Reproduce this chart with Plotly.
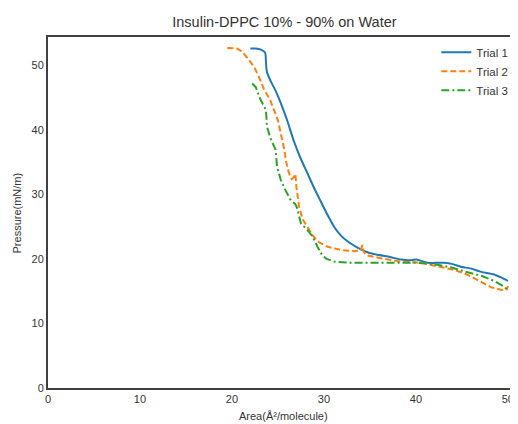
import plotly.graph_objects as go

trial1_x = [22.0, 22.6, 23.2, 23.6, 23.7, 23.8, 24.2, 24.8, 25.3, 26.0, 26.7, 27.4, 28.2, 29.0, 29.7, 30.4, 31.1, 31.8, 32.6, 33.6, 34.8, 36.0, 37.2, 38.4, 39.3, 40.0, 40.6, 41.3, 42.2, 43.1, 44.0, 44.9, 46.0, 47.1, 48.5, 49.3, 50.0]
trial1_y = [52.6, 52.6, 52.4, 52.0, 50.5, 49.0, 47.6, 45.9, 44.2, 41.5, 38.4, 35.8, 33.3, 30.8, 28.8, 26.8, 25.0, 23.7, 22.7, 21.8, 21.0, 20.6, 20.3, 19.9, 19.8, 19.9, 19.7, 19.4, 19.4, 19.4, 19.2, 18.8, 18.5, 18.0, 17.6, 17.1, 16.6]

trial2_x = [19.5, 20.6, 21.2, 21.7, 22.4, 23.0, 23.5, 24.1, 24.6, 25.0, 25.3, 25.7, 25.9, 26.2, 26.5, 26.7, 26.9, 27.0, 27.3, 27.7, 28.2, 28.6, 29.3, 30.4, 31.8, 33.3, 34.0, 34.2, 34.3, 34.6, 36.2, 38.4, 40.6, 42.7, 44.2, 45.7, 47.1, 48.2, 49.3, 49.9, 50.0]
trial2_y = [52.7, 52.6, 52.0, 51.1, 49.8, 48.0, 46.2, 44.8, 43.1, 41.5, 39.5, 36.9, 35.0, 33.3, 32.4, 32.6, 33.2, 31.2, 28.1, 26.1, 25.0, 24.0, 22.7, 21.9, 21.4, 21.2, 21.4, 22.2, 21.2, 20.6, 20.1, 19.6, 19.4, 18.8, 18.3, 17.5, 16.5, 15.6, 15.2, 15.3, 15.8]

trial3_x = [22.2, 22.6, 23.1, 23.7, 23.8, 24.2, 24.75, 24.9, 25.3, 25.8, 26.4, 26.9, 27.1, 27.3, 27.5, 28.2, 28.8, 29.3, 29.8, 30.3, 31.1, 32.9, 35.0, 38.4, 40.0, 42.0, 43.8, 45.7, 47.1, 48.5, 49.5, 50.0]
trial3_y = [47.2, 46.6, 44.7, 43.1, 40.5, 38.7, 36.9, 34.3, 32.3, 30.7, 29.1, 28.5, 27.8, 26.5, 25.5, 24.5, 23.4, 21.9, 20.6, 20.0, 19.6, 19.4, 19.4, 19.4, 19.4, 19.2, 18.7, 17.9, 17.4, 16.6, 15.8, 15.2]

x_ticks = [0, 10, 20, 30, 40, 50]
y_ticks = [0, 10, 20, 30, 40, 50]

TEXT = "#333333"
SPINE = "#404040"
FONT = "Liberation Sans, Arial, sans-serif"

fig = go.Figure()
fig.add_trace(go.Scatter(x=trial1_x, y=trial1_y, mode="lines", name="Trial 1",
                         line=dict(color="#1f77b4", width=2, shape="spline", smoothing=0.7)))
fig.add_trace(go.Scatter(x=trial2_x, y=trial2_y, mode="lines", name="Trial 2",
                         line=dict(color="#ff7f0e", width=2, dash="6px,3px")))
fig.add_trace(go.Scatter(x=trial3_x, y=trial3_y, mode="lines", name="Trial 3",
                         line=dict(color="#2ca02c", width=2, dash="8px,3px,2px,3px")))

# page has an 8px body margin, so the figure is sized/offset to compensate
fig.update_layout(
    width=510, height=416,
    margin=dict(l=40, r=0, t=29, b=36, autoexpand=False),
    paper_bgcolor="white", plot_bgcolor="white",
    font=dict(family=FONT, color=TEXT, size=11),
    title=dict(text="Insulin-DPPC 10% - 90% on Water", x=0.542, xanchor="center",
               y=0.966, yanchor="middle", font=dict(size=14.5, color=TEXT)),
    showlegend=True,
    legend=dict(x=0.99, xanchor="right", y=0.998, yanchor="top",
                bgcolor="rgba(0,0,0,0)", borderwidth=0,
                font=dict(size=11.5, color=TEXT), tracegroupgap=0, itemwidth=30),
    xaxis=dict(range=[0, 51.1], tickvals=x_ticks, showgrid=False, zeroline=False,
               showline=True, linecolor=SPINE, linewidth=2, mirror=True, automargin=False,
               ticks="", tickfont=dict(size=11, color=TEXT)),
    yaxis=dict(range=[0, 54.4], tickvals=y_ticks, showgrid=False, zeroline=False,
               showline=True, linecolor=SPINE, linewidth=2, automargin=False,
               ticks="", tickfont=dict(size=11, color=TEXT)),
    annotations=[
        dict(text="Area(Å²/molecule)", xref="paper", yref="paper", x=0.5, y=-0.08,
             xanchor="center", yanchor="middle", showarrow=False,
             font=dict(size=11, color=TEXT)),
        dict(text="Pressure(mN/m)", xref="paper", yref="paper", x=-0.066, y=0.5,
             xanchor="center", yanchor="middle", showarrow=False, textangle=-90,
             font=dict(size=11, color=TEXT)),
    ],
)

fig.write_html("out.html")
